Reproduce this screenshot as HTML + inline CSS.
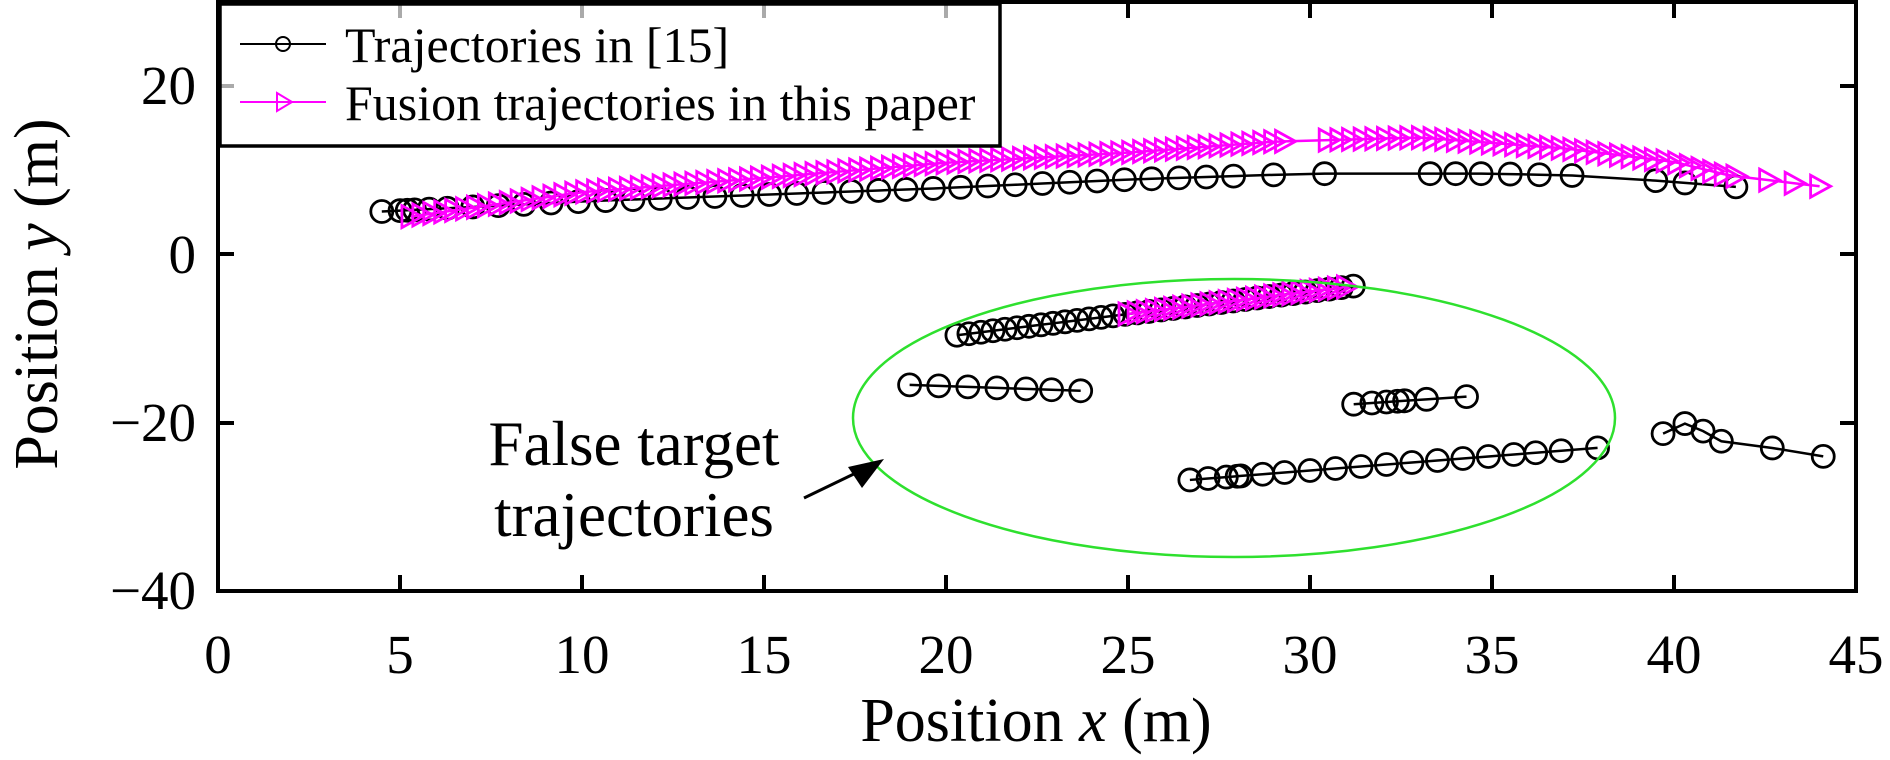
<!DOCTYPE html>
<html><head><meta charset="utf-8"><style>
html,body{margin:0;padding:0;background:#fff;}
svg{display:block;}
text{font-family:"Liberation Serif",serif;fill:#000;}
</style></head><body>
<svg id="s" width="1890" height="760" viewBox="0 0 1890 760" xmlns="http://www.w3.org/2000/svg">
<g id="data"></g>
<ellipse cx="1234" cy="418" rx="381" ry="139" fill="none" stroke="#2ee02e" stroke-width="2.5"/>
<rect x="218" y="2" width="1638" height="589" fill="none" stroke="#000" stroke-width="4"/>
<g stroke="#000" stroke-width="4">
<line x1="400" y1="591" x2="400" y2="575"/><line x1="582" y1="591" x2="582" y2="575"/><line x1="764" y1="591" x2="764" y2="575"/><line x1="946" y1="591" x2="946" y2="575"/><line x1="1128" y1="591" x2="1128" y2="575"/><line x1="1310" y1="591" x2="1310" y2="575"/><line x1="1492" y1="591" x2="1492" y2="575"/><line x1="1674" y1="591" x2="1674" y2="575"/>
<line x1="1128" y1="2" x2="1128" y2="18"/><line x1="1310" y1="2" x2="1310" y2="18"/><line x1="1492" y1="2" x2="1492" y2="18"/><line x1="1674" y1="2" x2="1674" y2="18"/>
<line x1="218" y1="254" x2="234" y2="254"/><line x1="218" y1="423" x2="234" y2="423"/>
<line x1="1856" y1="86" x2="1840" y2="86"/><line x1="1856" y1="254" x2="1840" y2="254"/><line x1="1856" y1="423" x2="1840" y2="423"/>
</g>
<g stroke="#aaa" stroke-width="4">
<line x1="400" y1="4" x2="400" y2="18"/><line x1="582" y1="4" x2="582" y2="18"/><line x1="764" y1="4" x2="764" y2="18"/><line x1="946" y1="4" x2="946" y2="18"/>
<line x1="220" y1="86" x2="234" y2="86"/>
</g>
<rect x="220" y="4" width="780" height="142" fill="none" stroke="#000" stroke-width="3.5"/>
<line x1="240" y1="44" x2="326" y2="44" stroke="#000" stroke-width="2"/>
<circle cx="283" cy="44" r="7" fill="none" stroke="#000" stroke-width="2"/>
<line x1="240" y1="102" x2="326" y2="102" stroke="#f0f" stroke-width="2"/>
<path d="M277 93 L292 102 L277 111 Z" fill="none" stroke="#f0f" stroke-width="2"/>
<text x="345" y="62" font-size="50">Trajectories in [15]</text>
<text x="345" y="120" font-size="50">Fusion trajectories in this paper</text>
<g font-size="55" text-anchor="middle">
<text x="218" y="673">0</text><text x="400" y="673">5</text><text x="582" y="673">10</text><text x="764" y="673">15</text><text x="946" y="673">20</text><text x="1128" y="673">25</text><text x="1310" y="673">30</text><text x="1492" y="673">35</text><text x="1674" y="673">40</text><text x="1856" y="673">45</text>
</g>
<g font-size="55" text-anchor="end">
<text x="196" y="104">20</text><text x="196" y="273">0</text><text x="196" y="441">−20</text><text x="196" y="609">−40</text>
</g>
<text x="1036" y="741" font-size="62" text-anchor="middle">Position <tspan font-style="italic">x</tspan> (m)</text>
<text transform="translate(57,294) rotate(-90)" font-size="62" text-anchor="middle">Position <tspan font-style="italic">y</tspan> (m)</text>
<text x="634" y="465" font-size="63" text-anchor="middle">False target</text>
<text x="634" y="536" font-size="63" text-anchor="middle">trajectories</text>
<line x1="804" y1="498" x2="860" y2="471" stroke="#000" stroke-width="3"/>
<path d="M884 459 L848 467 L862 488 Z" fill="#000"/>
</svg>
<script>
var NS="http://www.w3.org/2000/svg",g=document.getElementById("data");
function X(x){return 218+x*36.4;}function Y(y){return 591-(y+40)*8.414;}
function el(n,a){var e=document.createElementNS(NS,n);for(var k in a)e.setAttribute(k,a[k]);g.appendChild(e);return e;}
function interp(pts,x){for(var i=0;i<pts.length-1;i++){if(x<=pts[i+1][0]){var t=(x-pts[i][0])/(pts[i+1][0]-pts[i][0]);return pts[i][1]+t*(pts[i+1][1]-pts[i][1]);}}return pts[pts.length-1][1];}
function circ(xs,f){var d="";xs.forEach(function(x,i){d+=(i?"L":"M")+X(x)+" "+Y(f(x));});el("path",{d:d,fill:"none",stroke:"#000","stroke-width":2.5});xs.forEach(function(x){el("circle",{cx:X(x),cy:Y(f(x)),r:11,fill:"none",stroke:"#000","stroke-width":2.8});});}
function tri(xs,f){var d="";xs.forEach(function(x,i){d+=(i?"L":"M")+X(x)+" "+Y(f(x));});el("path",{d:d,fill:"none",stroke:"#f0f","stroke-width":2.5});xs.forEach(function(x){var cx=X(x),cy=Y(f(x));el("path",{d:"M"+(cx-9)+" "+(cy-11)+"L"+(cx+11)+" "+cy+"L"+(cx-9)+" "+(cy+11)+"Z",fill:"none",stroke:"#f0f","stroke-width":2.8});});}
var mb=[[4.5,5.1],[10,6.3],[15,7.1],[20,7.9],[25,8.9],[30,9.6],[35,9.6],[38,9.3],[40,8.6],[41.8,8]];
var xs=[4.5,5,5.2,5.4,5.8,6.3,7,7.7];for(var x=8.4;x<=28.5;x+=0.75)xs.push(x);xs.push(29,30.4,33.3,34,34.7,35.5,36.3,37.2,39.5,40.3,41.7);
circ(xs,function(x){return interp(mb,x);});
var mm=[[5.3,4.5],[10,7.4],[15,9.1],[20,10.9],[25,12.1],[29,13.4],[33,13.9],[37,12.6],[40,11],[41.5,9.4],[44,8.1]];
var tx=[];for(x=5.3;x<=29.6;x+=0.3)tx.push(x);for(x=30.5;x<=41.8;x+=0.32)tx.push(x);tx.push(42.6,43.3,44);
tri(tx,function(x){return interp(mm,x);});
var f1=function(x){return -9.6+(x-20.3)*(6/11.2);};
var a=[];for(x=20.3;x<=31.5;x+=0.33)a.push(x);circ(a,f1);
var b=[];for(x=25;x<=31;x+=0.25)b.push(x);tri(b,f1);
circ([19,19.8,20.6,21.4,22.2,22.9,23.7],function(x){return -15.5-(x-19)*0.15;});
circ([31.2,31.7,32.1,32.4,32.6,33.2,34.3],function(x){return -17.8+(x-31.2)*0.29;});
circ([26.7,27.2,27.7,28,28.1,28.7,29.3,30,30.7,31.4,32.1,32.8,33.5,34.2,34.9,35.6,36.2,36.9,37.9],function(x){return -26.8+(x-26.7)*0.34;});
var p5=[[39.7,-21.3],[40.3,-20.1],[40.8,-21],[41.3,-22.2],[42.7,-23],[44.1,-24]];
circ(p5.map(function(p){return p[0];}),function(x){for(var i=0;i<p5.length;i++)if(p5[i][0]==x)return p5[i][1];});
</script>
</body></html>
